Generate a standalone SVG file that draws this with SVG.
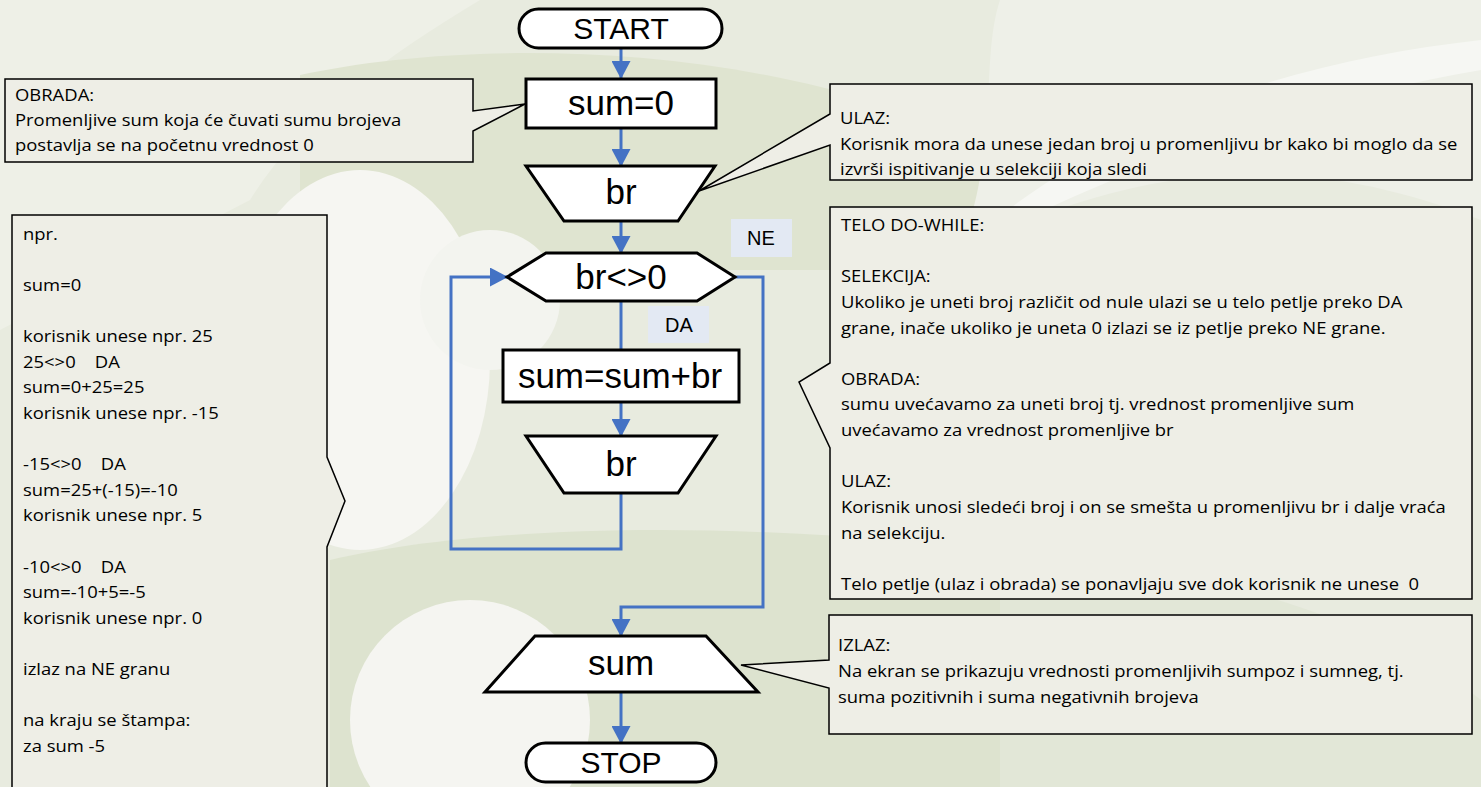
<svg xmlns="http://www.w3.org/2000/svg" width="1481" height="787" viewBox="0 0 1481 787">
<style>
.node{fill:#ffffff;stroke:#000000;stroke-width:3;stroke-linejoin:miter}
.ntext{font-family:"Liberation Sans",Arial,sans-serif;font-size:35px;fill:#000;text-anchor:middle}
.ttext{font-family:"Liberation Sans",Arial,sans-serif;font-size:30px;fill:#000;text-anchor:middle}
.call{fill:#eeeee6;stroke:#000000;stroke-width:1.5;stroke-linejoin:miter}
.ctext{font-family:"Open Sans","Liberation Sans",sans-serif;font-size:16px;fill:#000}
.lbl{fill:#e3e9f3}
.ltext{font-family:"Liberation Sans",Arial,sans-serif;font-size:20px;fill:#000;text-anchor:middle}
.conn{fill:none;stroke:#4472c4;stroke-width:3}
</style>
<defs>
<marker id="ah" viewBox="0 0 18 19" markerWidth="18" markerHeight="19" refX="17" refY="9.5" orient="auto" markerUnits="userSpaceOnUse">
<path d="M0,0 L18,9.5 L0,19 Z" fill="#4472c4"/>
</marker>
</defs>
<g id="background">
<rect x="0" y="0" width="1481" height="787" fill="#e8ebdf"/>
<path d="M0,0 H480 C380,60 300,120 250,200 L0,330 Z" fill="#eef0e7"/>
<path d="M300,75 C460,40 760,35 1000,150 L1010,270 L300,270 Z" fill="#dfe4d0"/>
<path d="M1000,0 H1481 V220 C1300,150 1150,160 960,250 C1000,150 980,60 1000,0 Z" fill="#eef0e8"/>
<path d="M960,250 C1100,120 1300,60 1481,40 V70 C1300,100 1120,170 960,250 Z" fill="#f6f7f3"/>
<ellipse cx="360" cy="360" rx="130" ry="190" fill="#f6f6f2"/>
<ellipse cx="490" cy="300" rx="70" ry="70" fill="#f3f4ef"/>
<path d="M330,560 C500,520 800,520 1050,560 L1080,787 H330 Z" fill="#dde3cf"/>
<ellipse cx="470" cy="720" rx="120" ry="120" fill="#f5f5f1"/>
<path d="M1000,560 C1200,560 1380,620 1481,700 V787 H1000 Z" fill="#e2e7d7"/>
</g>
<g id="connectors">
<line class="conn" x1="621" y1="48" x2="621" y2="78" marker-end="url(#ah)"/>
<line class="conn" x1="621" y1="128" x2="621" y2="166" marker-end="url(#ah)"/>
<line class="conn" x1="621" y1="221" x2="621" y2="253" marker-end="url(#ah)"/>
<line class="conn" x1="621" y1="301" x2="621" y2="350"/>
<line class="conn" x1="621" y1="402" x2="621" y2="436" marker-end="url(#ah)"/>
<polyline class="conn" points="621,493 621,549 451,549 451,277 507,277" marker-end="url(#ah)"/>
<polyline class="conn" points="735,277 763,277 763,607 621,607 621,636" marker-end="url(#ah)"/>
<line class="conn" x1="621" y1="692" x2="621" y2="743" marker-end="url(#ah)"/>
</g>
<g id="label-ne">
<rect class="lbl" x="731" y="219" width="61" height="38"/>
<text class="ltext" x="761" y="245">NE</text>
</g>
<g id="label-da">
<rect class="lbl" x="648" y="306" width="61" height="37"/>
<text class="ltext" x="679" y="332">DA</text>
</g>
<g id="start">
<rect class="node" x="519" y="9" width="203" height="39" rx="19.5"/>
<text class="ttext" x="621" y="39">START</text>
</g>
<g id="init">
<rect class="node" x="526" y="79" width="190" height="49"/>
<text class="ntext" x="621" y="115">sum=0</text>
</g>
<g id="input1">
<polygon class="node" points="526,166 715,166 678,221 564,221"/>
<text class="ntext" x="621" y="204">br</text>
</g>
<g id="decision">
<polygon class="node" points="507,277 546,253 697,253 735,277 697,301 546,301"/>
<text class="ntext" x="621" y="289">br&lt;&gt;0</text>
</g>
<g id="process">
<rect class="node" x="503" y="350" width="236" height="52"/>
<text class="ntext" x="620" y="388">sum=sum+br</text>
</g>
<g id="input2">
<polygon class="node" points="526,436 716,436 678,493 564,493"/>
<text class="ntext" x="621" y="476">br</text>
</g>
<g id="output">
<polygon class="node" points="535,636 706,636 758,692 485,692"/>
<text class="ntext" x="621" y="675">sum</text>
</g>
<g id="stop">
<rect class="node" x="526" y="743" width="190" height="39" rx="19.5"/>
<text class="ttext" x="621" y="773">STOP</text>
</g>
<g id="note-obrada">
<path class="call" d="M5,79 H473 V111 L525,104 L473,131 V162 H5 Z"/>
<g transform="translate(15,0) scale(1.153,1)">
<text class="ctext" x="0" y="101">OBRADA:</text>
<text class="ctext" x="0" y="126">Promenljive sum koja će čuvati sumu brojeva</text>
<text class="ctext" x="0" y="151">postavlja se na početnu vrednost 0</text>
</g>
</g>
<g id="note-ulaz">
<path class="call" d="M830,84 H1472 V180 H830 V145 L699,191 L830,114 Z"/>
<g transform="translate(840,0) scale(1.153,1)">
<text class="ctext" x="0" y="124">ULAZ:</text>
<text class="ctext" x="0" y="150">Korisnik mora da unese jedan broj u promenljivu br kako bi moglo da se</text>
<text class="ctext" x="0" y="175">izvrši ispitivanje u selekciji koja sledi</text>
</g>
</g>
<g id="note-telo">
<path class="call" d="M830,207 H1472 V599 H830 V448 L799,382 L830,363 Z"/>
<g transform="translate(841,0) scale(1.153,1)">
<text class="ctext" x="0" y="231">TELO DO-WHILE:</text>
<text class="ctext" x="0" y="282">SELEKCIJA:</text>
<text class="ctext" x="0" y="308">Ukoliko je uneti broj različit od nule ulazi se u telo petlje preko DA</text>
<text class="ctext" x="0" y="334">grane, inače ukoliko je uneta 0 izlazi se iz petlje preko NE grane.</text>
<text class="ctext" x="0" y="385">OBRADA:</text>
<text class="ctext" x="0" y="410">sumu uvećavamo za uneti broj tj. vrednost promenljive sum</text>
<text class="ctext" x="0" y="436">uvećavamo za vrednost promenljive br</text>
<text class="ctext" x="0" y="487">ULAZ:</text>
<text class="ctext" x="0" y="513">Korisnik unosi sledeći broj i on se smešta u promenljivu br i dalje vraća</text>
<text class="ctext" x="0" y="539">na selekciju.</text>
<text class="ctext" x="0" y="590" xml:space="preserve">Telo petlje (ulaz i obrada) se ponavljaju sve dok korisnik ne unese  0</text>
</g>
</g>
<g id="note-izlaz">
<path class="call" d="M829,615 H1472 V734 H829 V688 L741,665 L829,660 Z"/>
<g transform="translate(838,0) scale(1.153,1)">
<text class="ctext" x="0" y="651">IZLAZ:</text>
<text class="ctext" x="0" y="677">Na ekran se prikazuju vrednosti promenljivih sumpoz i sumneg, tj.</text>
<text class="ctext" x="0" y="703">suma pozitivnih i suma negativnih brojeva</text>
</g>
</g>
<g id="note-primer">
<path class="call" d="M12,215 H327 V457 L345,501 L327,547 V800 H12 Z"/>
<g transform="translate(23,0) scale(1.153,1)">
<text class="ctext" x="0" y="240">npr.</text>
<text class="ctext" x="0" y="291">sum=0</text>
<text class="ctext" x="0" y="342">korisnik unese npr. 25</text>
<text class="ctext" x="0" y="368" xml:space="preserve">25&lt;&gt;0    DA</text>
<text class="ctext" x="0" y="393">sum=0+25=25</text>
<text class="ctext" x="0" y="419">korisnik unese npr. -15</text>
<text class="ctext" x="0" y="470" xml:space="preserve">-15&lt;&gt;0    DA</text>
<text class="ctext" x="0" y="496">sum=25+(-15)=-10</text>
<text class="ctext" x="0" y="521">korisnik unese npr. 5</text>
<text class="ctext" x="0" y="573" xml:space="preserve">-10&lt;&gt;0    DA</text>
<text class="ctext" x="0" y="598">sum=-10+5=-5</text>
<text class="ctext" x="0" y="624">korisnik unese npr. 0</text>
<text class="ctext" x="0" y="675">izlaz na NE granu</text>
<text class="ctext" x="0" y="726">na kraju se štampa:</text>
<text class="ctext" x="0" y="752">za sum -5</text>
</g>
</g>
</svg>
